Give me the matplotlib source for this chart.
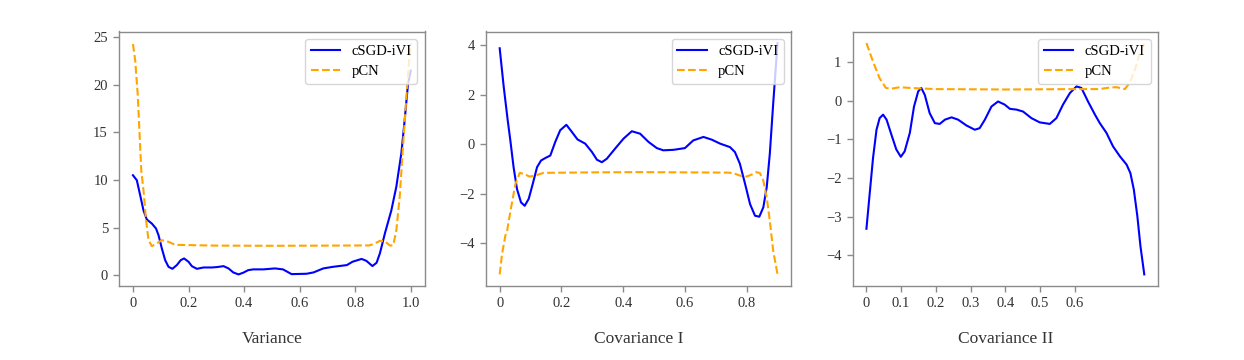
import matplotlib
matplotlib.use("Agg")
import matplotlib.pyplot as plt

plt.rcParams['font.family'] = ['Liberation Serif', 'DejaVu Serif']

# ---------------- Data ----------------
# Panel 1: Variance
var_x_csgd = [0, 0.014, 0.026, 0.038, 0.05, 0.068, 0.083, 0.092, 0.104, 0.116, 0.128, 0.142,
              0.158, 0.172, 0.184, 0.2, 0.212, 0.23, 0.254, 0.284, 0.302, 0.326, 0.344,
              0.361, 0.38, 0.397, 0.415, 0.433, 0.47, 0.511, 0.54, 0.571, 0.625, 0.65,
              0.685, 0.72, 0.77, 0.79, 0.823, 0.84, 0.862, 0.877, 0.889, 0.907, 0.93,
              0.948, 0.966, 0.978, 0.99, 1.0]
var_y_csgd = [10.5, 9.97, 8.4, 6.8, 5.84, 5.42, 4.9, 4.2, 2.8, 1.57, 0.87, 0.66,
              1.05, 1.57, 1.75, 1.4, 0.94, 0.66, 0.8, 0.8, 0.84, 0.94, 0.7,
              0.28, 0.07, 0.25, 0.52, 0.6, 0.6, 0.7, 0.6, 0.1, 0.14, 0.28,
              0.7, 0.87, 1.05, 1.4, 1.7, 1.5, 0.95, 1.3, 2.3, 4.4, 6.8,
              9.3, 12.8, 16.3, 20.1, 21.5]
var_x_pcn = [0, 0.008, 0.017, 0.026, 0.03, 0.038, 0.047, 0.056, 0.068, 0.081, 0.104, 0.128,
             0.152, 0.3, 0.5, 0.7, 0.85, 0.865, 0.889, 0.907, 0.925, 0.937, 0.948, 0.96,
             0.972, 0.984, 0.994, 1.0]
var_y_pcn = [24.3, 22.6, 19.1, 13.5, 11.0, 8.9, 5.8, 3.7, 3.04, 3.25, 3.67, 3.5,
             3.18, 3.1, 3.08, 3.1, 3.12, 3.25, 3.6, 3.55, 3.1, 3.15, 4.7, 8.2,
             13.5, 18.7, 22.6, 24.4]

# Panel 2: Covariance I
cov1_x_csgd = [0, 0.013, 0.026, 0.0345, 0.045, 0.056, 0.069, 0.081, 0.094, 0.107, 0.121,
               0.134, 0.148, 0.164, 0.18, 0.196, 0.216, 0.234, 0.252, 0.277, 0.299, 0.315,
               0.331, 0.347, 0.374, 0.401, 0.428, 0.455, 0.482, 0.509, 0.53, 0.563, 0.6,
               0.627, 0.66, 0.687, 0.714, 0.746, 0.762, 0.778, 0.795, 0.811, 0.827, 0.841,
               0.854, 0.865, 0.875, 0.886, 0.9]
cov1_y_csgd = [3.88, 2.33, 0.97, 0.16, -0.92, -1.8, -2.34, -2.48, -2.2, -1.6, -0.92,
               -0.65, -0.55, -0.45, 0.1, 0.57, 0.79, 0.5, 0.2, 0.03, -0.31, -0.62,
               -0.72, -0.58, -0.17, 0.23, 0.53, 0.43, 0.1, -0.15, -0.24, -0.22, -0.15,
               0.16, 0.3, 0.19, 0.03, -0.11, -0.31, -0.78, -1.6, -2.41, -2.88, -2.92,
               -2.54, -1.73, -0.38, 1.65, 4.09]
cov1_x_pcn = [0, 0.0075, 0.018, 0.024, 0.037, 0.051, 0.065, 0.078, 0.097, 0.115, 0.142,
              0.3, 0.45, 0.6, 0.74, 0.757, 0.778, 0.8, 0.816, 0.832, 0.843, 0.854,
              0.865, 0.875, 0.886, 0.9]
cov1_y_pcn = [-5.25, -4.44, -3.7, -3.49, -2.54, -1.6, -1.15, -1.19, -1.3, -1.26, -1.15,
              -1.13, -1.12, -1.13, -1.14, -1.16, -1.26, -1.3, -1.22, -1.12, -1.16, -1.46,
              -2.14, -3.08, -4.3, -5.25]

# Panel 3: Covariance II
cov2_x_csgd = [0, 0.0096, 0.019, 0.029, 0.038, 0.048, 0.058, 0.072, 0.086, 0.099, 0.11,
               0.125, 0.137, 0.149, 0.158, 0.168, 0.182, 0.197, 0.211, 0.226, 0.245,
               0.264, 0.288, 0.312, 0.326, 0.341, 0.36, 0.379, 0.398, 0.413, 0.432,
               0.451, 0.475, 0.499, 0.528, 0.547, 0.566, 0.586, 0.605, 0.619, 0.638,
               0.658, 0.672, 0.691, 0.71, 0.73, 0.749, 0.76, 0.77, 0.78, 0.789, 0.8]
cov2_y_csgd = [-3.31, -2.38, -1.48, -0.75, -0.45, -0.36, -0.49, -0.88, -1.26, -1.45, -1.31,
               -0.83, -0.15, 0.24, 0.33, 0.15, -0.32, -0.58, -0.6, -0.49, -0.43,
               -0.49, -0.64, -0.75, -0.71, -0.49, -0.15, -0.02, -0.1, -0.21, -0.23,
               -0.28, -0.45, -0.56, -0.6, -0.45, -0.1, 0.2, 0.37, 0.33, -0.02,
               -0.36, -0.58, -0.83, -1.18, -1.44, -1.65, -1.87, -2.3, -2.98, -3.76, -4.49]
cov2_x_pcn = [0, 0.019, 0.038, 0.056, 0.072, 0.096, 0.125, 0.2, 0.4, 0.6, 0.67,
              0.7, 0.72, 0.744, 0.758, 0.773, 0.787, 0.8]
cov2_y_pcn = [1.49, 1.01, 0.58, 0.33, 0.31, 0.35, 0.33, 0.3, 0.29, 0.3, 0.3,
              0.34, 0.35, 0.3, 0.46, 0.8, 1.23, 1.47]

panels = [
    ("Variance", var_x_csgd, var_y_csgd, var_x_pcn, var_y_pcn,
     [0, 0.2, 0.4, 0.6, 0.8, 1.0], ["0", "0.2", "0.4", "0.6", "0.8", "1.0"], [0, 5, 10, 15, 20, 25]),
    ("Covariance I", cov1_x_csgd, cov1_y_csgd, cov1_x_pcn, cov1_y_pcn,
     [0, 0.2, 0.4, 0.6, 0.8], ["0", "0.2", "0.4", "0.6", "0.8"], [-4, -2, 0, 2, 4]),
    ("Covariance II", cov2_x_csgd, cov2_y_csgd, cov2_x_pcn, cov2_y_pcn,
     [0, 0.1, 0.2, 0.3, 0.4, 0.5, 0.6], ["0", "0.1", "0.2", "0.3", "0.4", "0.5", "0.6"],
     [-4, -3, -2, -1, 0, 1]),
]

fig = plt.figure(figsize=(12.44, 3.6), dpi=100)
axes = fig.subplots(1, 3)
fig.subplots_adjust(left=0.0957, right=0.931, bottom=0.2056, top=0.9125, wspace=0.2)

spine_color = '#8a8a8a'
text_color = '#333333'

for ax, (label, xc, yc, xp, yp, xt, xtl, yt) in zip(axes, panels):
    ax.plot(xc, yc, color='blue', lw=1.5, label='cSGD-iVI')
    ax.plot(xp, yp, color='orange', lw=1.5, ls='--', label='pCN')
    ax.set_xticks(xt)
    ax.set_xticklabels(xtl)
    ax.set_yticks(yt)
    ax.set_xlabel(label, fontsize=12.5, labelpad=15, color=text_color)
    ax.tick_params(axis='both', direction='out', length=4.5, width=1.0,
                   color=spine_color, labelcolor=text_color, labelsize=10.5)
    for s in ax.spines.values():
        s.set_color(spine_color)
        s.set_linewidth(1.0)
    ax.legend(loc='upper right', fontsize=10.5)

fig.savefig('out.png', dpi=100)
